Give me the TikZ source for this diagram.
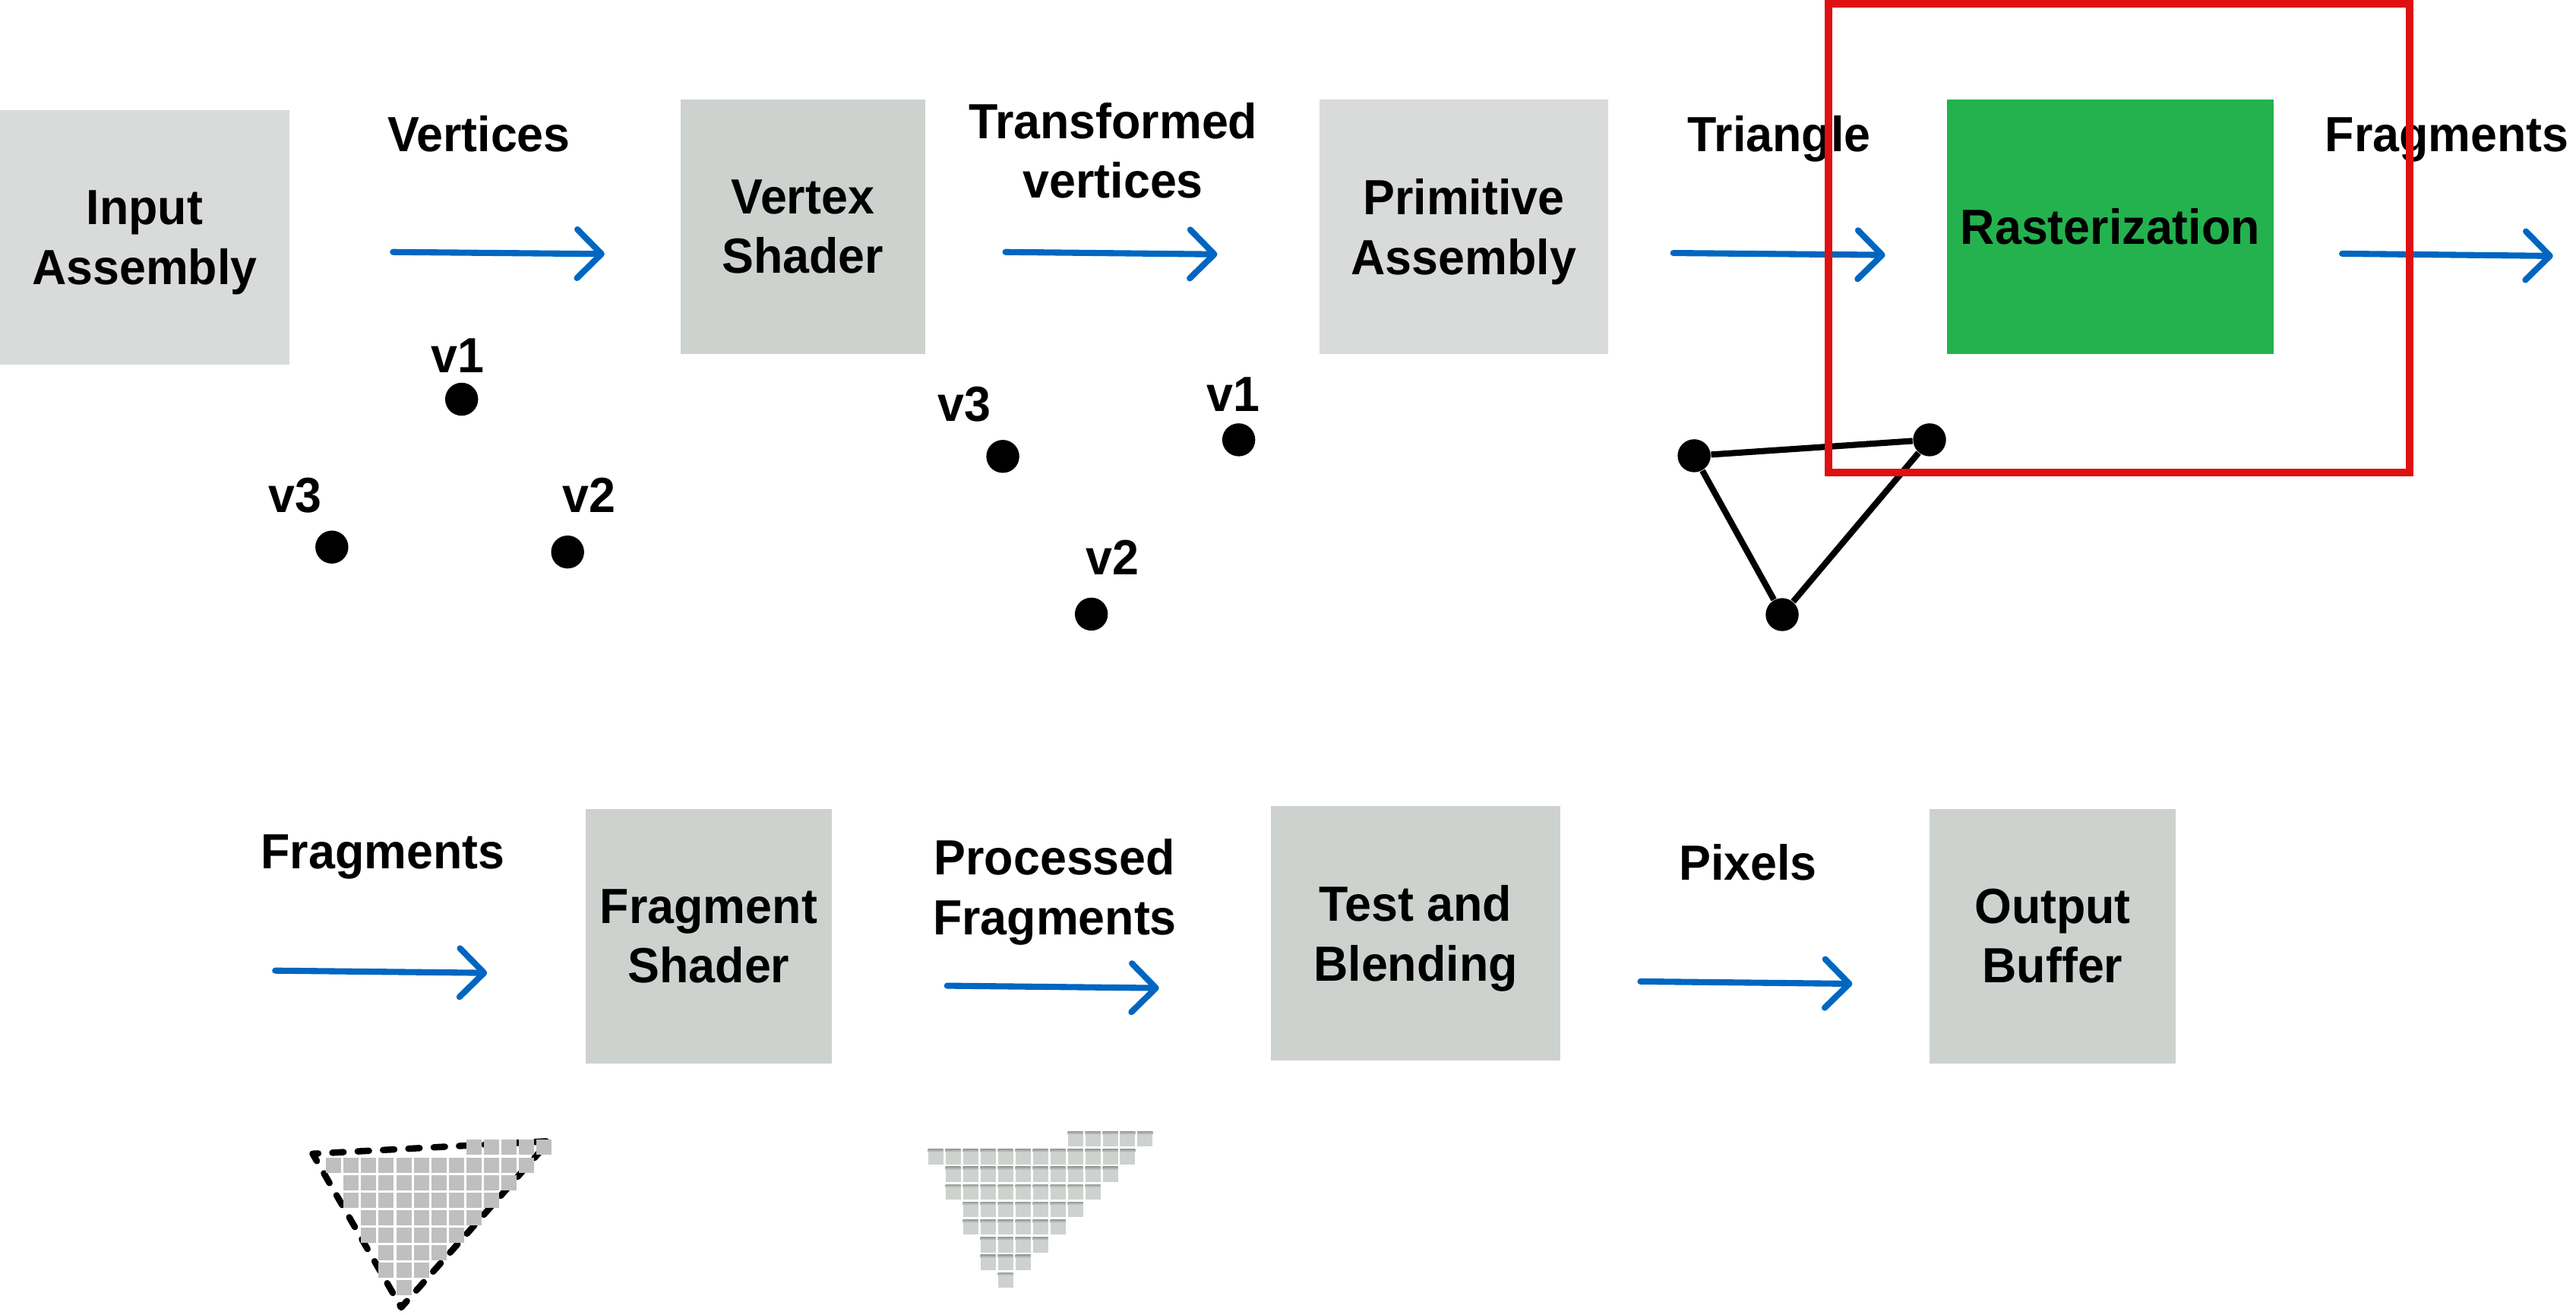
\documentclass[tikz,border=0pt]{standalone}
\usepackage{fontspec}
\setmainfont{Liberation Sans}[FakeStretch=0.965]
\usetikzlibrary{arrows.meta}

\definecolor{boxlight}{HTML}{D9DADA}
\definecolor{boxgray}{HTML}{CDD2CE}
\definecolor{rastgreen}{HTML}{24B24E}
\definecolor{framered}{HTML}{DD1111}
\definecolor{flowblue}{HTML}{0066C0}
\definecolor{fragcell}{HTML}{BFBFBF}
\definecolor{pixcell}{HTML}{CED2CF}
\definecolor{pixedge}{HTML}{9A9D9A}
\newcommand{\pu}{0.021626cm}

\begin{document}
\begin{tikzpicture}[x=\pu, y=-\pu,
  txt/.style={font=\fontsize{18.5}{22.3}\selectfont\bfseries, inner sep=0pt},
  lbl/.style={txt, anchor=base},
  lbl2/.style={txt, align=center},
  stage/.style={txt, rectangle, align=center, fill=#1, minimum height=155*\pu},
  flow/.style={draw=flowblue, line width=2.3pt, line cap=round,
    -{Straight Barb[length=3.2mm, width=6.4mm, round]}},
  dot/.style={circle, fill=black, inner sep=0pt, minimum size=0.434cm},
  edge/.style={draw=black, line width=2.3pt},
  dashtri/.style={draw=black, line width=2.4pt, line cap=round, line join=round,
    dash pattern=on 4.2pt off 5.3pt, dash phase=2.1pt},
]
\useasboundingbox (0,0) rectangle (1568,800);

% ---------- top row: pipeline stages ----------
\node[stage=boxlight, minimum width=176*\pu] (ia) at (88,144.5) {Input\\\smash{Assembly}};
\node[stage=boxgray,  minimum width=149*\pu] (vs) at (488.7,138) {Vertex\\Shader};
\node[stage=boxlight, minimum width=176*\pu] (pa) at (891,138) {Primitive\\\smash{Assembly}};
\node[stage=rastgreen, minimum width=199*\pu] (rs) at (1284.5,138) {Rasterization};

% ---------- bottom row: pipeline stages ----------
\node[stage=boxgray, minimum width=150*\pu] (fs) at (431.4,569.8) {Fragment\\Shader};
\node[stage=boxgray, minimum width=176*\pu] (tb) at (861.7,568) {Test and\\\smash{Blending}};
\node[stage=boxgray, minimum width=150*\pu] (ob) at (1249.4,569.8) {Output\\Buffer};

% ---------- data labels ----------
\node[lbl] (lvert) at (291.5,92.2) {Vertices};
\node[lbl2] (ltrans) at (677.5,91.8) {Transformed\\vertices};
\node[lbl] (ltri) at (1083,92.2) {Triangle};
\node[lbl] (lfragA) at (1489.5,92.2) {Fragments};
\node[lbl] (lfragB) at (233,528.6) {Fragments};
\node[lbl2] (lproc) at (642,539.8) {Processed\\\smash{Fragments}};
\node[lbl] (lpix) at (1064,535.6) {Pixels};

% ---------- flow arrows ----------
\coordinate (a1s) at (239.2,153.4);  \coordinate (a1e) at (368,154.6);
\coordinate (a2s) at (612,153.4);    \coordinate (a2e) at (741,154.8);
\coordinate (a3s) at (1018.5,154);   \coordinate (a3e) at (1147.5,155.2);
\coordinate (a4s) at (1425.6,154.4); \coordinate (a4e) at (1554,155.8);
\coordinate (b1s) at (167.5,590.8);  \coordinate (b1e) at (296.5,592.2);
\coordinate (b2s) at (576.5,600);    \coordinate (b2e) at (705.5,601.4);
\coordinate (b3s) at (998.5,597.4);  \coordinate (b3e) at (1127.5,598.8);
\draw[flow] (a1s) -- (a1e);
\draw[flow] (a2s) -- (a2e);
\draw[flow] (a3s) -- (a3e);
\draw[flow] (a4s) -- (a4e);
\draw[flow] (b1s) -- (b1e);
\draw[flow] (b2s) -- (b2e);
\draw[flow] (b3s) -- (b3e);

% ---------- input vertices ----------
\node[dot] (p1) at (281,243) {};
\node[dot] (p3) at (202,333) {};
\node[dot] (p2) at (345.5,336) {};
\node[lbl] (lp1) at (278.5,227) {v1};
\node[lbl] (lp3) at (179.5,312) {v3};
\node[lbl] (lp2) at (358.5,312) {v2};

% ---------- transformed vertices ----------
\node[dot] (q3) at (610.4,277.8) {};
\node[dot] (q1) at (754,267.7) {};
\node[dot] (q2) at (664.3,373.8) {};
\node[lbl] (lq3) at (587,256.6) {v3};
\node[lbl] (lq1) at (750.6,250.6) {v1};
\node[lbl] (lq2) at (677,349.9) {v2};

% ---------- assembled triangle ----------
\node[dot] (t1) at (1031.2,277.4) {};
\node[dot] (t2) at (1174.5,267.7) {};
\node[dot] (t3) at (1084.8,374.1) {};
\draw[edge] (t1) -- (t2) (t2) -- (t3) (t3) -- (t1);

% ---------- highlight frame around rasterization ----------
\draw[framered, line width=2.7pt] (1112.9,2.3) rectangle (1466.8,287.7);

% ---------- rasterized fragments ----------
\begin{scope}[x=0.01cm, y=-0.01cm]
  \coordinate (fa) at (411.7,1519.3);
  \coordinate (fb) at (723.3,1502.7);
  \coordinate (fc) at (528.3,1721.7);
  \draw[dashtri] (fa) -- (fb) -- (fc) -- cycle;
  \foreach \r/\a/\b in {0/8/12,1/0/11,2/1/10,3/1/9,4/2/8,5/2/7,6/3/6,7/3/5,8/4/4}{
    \foreach \c in {\a,...,\b}{
      \fill[fragcell] ({429.3+\c*23.1},{1501+\r*23.1}) rectangle ++(20,20);
    }
  }
  % processed fragments
  \foreach \r/\a/\b in {0/8/12,1/0/11,2/1/10,3/1/9,4/2/8,5/2/7,6/3/6,7/3/5,8/4/4}{
    \foreach \c in {\a,...,\b}{
      \fill[pixcell] ({1222+\c*23},{1490+\r*23.2}) rectangle ++(20,20);
      \shade[top color=pixedge, bottom color=pixcell] ({1222+\c*23},{1490+\r*23.2}) rectangle ++(20,4);
    }
  }
\end{scope}
\end{tikzpicture}
\end{document}
